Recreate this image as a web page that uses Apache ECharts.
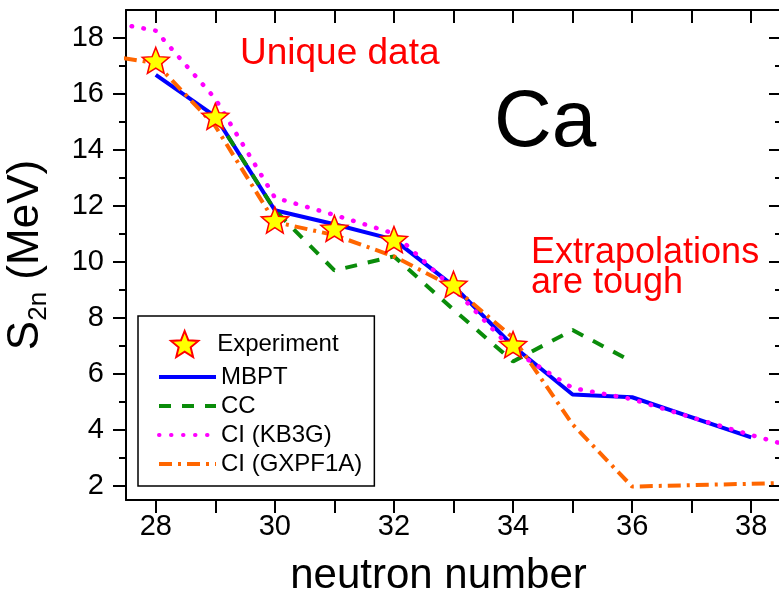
<!DOCTYPE html>
<html>
<head>
<meta charset="utf-8">
<script src="https://cdn.jsdelivr.net/npm/echarts@6/dist/echarts.min.js"></script>
<style>
html, body { margin: 0; padding: 0; background: #fff; }
#chart { width: 779px; height: 594px; }
</style>
</head>
<body>
<div id="chart"></div>
<script>
// S2n values (MeV)
const expN = [28, 29, 30, 31, 32, 33, 34]
const expS2n = [17.2, 15.2, 11.5, 11.2, 10.8, 9.2, 7.05]

const mbptN = [28, 29, 30, 31, 32, 33, 34, 35, 36, 38]
const mbptS2n = [16.68, 15.2, 11.85, 11.35, 10.8, 9.15, 7.0, 5.27, 5.17, 3.74]

const ccN = [29, 30, 31, 32, 33, 34, 35, 36]
const ccS2n = [15.2, 11.85, 9.7, 10.2, 8.3, 6.45, 7.57, 6.44]

const kb3gN = [27, 28, 29, 30, 31, 32, 33, 34, 35, 36, 37, 38, 39]
const kb3gS2n = [18.66, 18.26, 15.83, 12.3, 11.68, 11.02, 9.05, 6.85, 5.5, 5.1, 4.45, 3.82, 3.22]

const gxpfN = [27, 28, 29, 30, 31, 32, 33, 34, 35, 36, 38, 39]
const gxpfS2n = [17.44, 17.1, 14.85, 11.43, 10.96, 10.2, 9.1, 7.3, 4.2, 1.98, 2.08, 2.14]

// ticks and labels
const xTicks = [28, 29, 30, 31, 32, 33, 34, 35, 36, 37, 38]
const xLabels = [28, 30, 32, 34, 36, 38]
const yMajor = [2, 4, 6, 8, 10, 12, 14, 16, 18]
const yMinor = [3, 5, 7, 9, 11, 13, 15, 17]

const FONT = '"Liberation Sans", Arial, sans-serif'

function pairs(xs, ys) {
    return xs.map((x, i) => [x, ys[i]])
}

// five point star for the experiment markers
function starPath(r1, r2) {
    let d = ''
    for (let i = 0; i < 10; i++) {
        const r = i % 2 ? r2 : r1
        const a = Math.PI / 5 * i - Math.PI / 2
        d += (i ? 'L' : 'M') + (50 + r * Math.cos(a)).toFixed(2) + ',' + (50 + r * Math.sin(a)).toFixed(2)
    }
    return 'path://' + d + 'Z'
}
const STAR = starPath(50, 22)

const blackLine = { color: '#000', width: 2 }

const option = {
    animation: false,
    backgroundColor: '#fff',
    textStyle: { fontFamily: FONT },
    grid: { left: 126, top: 10, width: 655, height: 490, outerBoundsMode: 'none', containLabel: false },
    xAxis: [
        {
            type: 'value', min: 27.5, max: 38.5, position: 'bottom',
            axisLine: { onZero: false, lineStyle: blackLine },
            axisTick: { customValues: xTicks, length: 13, lineStyle: blackLine },
            axisLabel: { customValues: xLabels, fontSize: 29, color: '#000', margin: 12, fontFamily: FONT },
            splitLine: { show: false },
            name: 'neutron number', nameLocation: 'middle', nameGap: 55,
            nameTextStyle: { fontSize: 42, color: '#000', fontFamily: FONT, padding: [0, 30, 0, 0] }
        },
        {
            type: 'value', min: 27.5, max: 38.5, position: 'top',
            axisLine: { onZero: false, lineStyle: blackLine },
            axisTick: { inside: true, customValues: xTicks, length: 13, lineStyle: blackLine },
            axisLabel: { show: false },
            splitLine: { show: false }
        }
    ],
    yAxis: [
        {
            type: 'value', min: 1.5, max: 19, position: 'left',
            axisLine: { onZero: false, lineStyle: blackLine },
            axisTick: { customValues: yMajor, length: 13, lineStyle: blackLine },
            axisLabel: { customValues: yMajor, fontSize: 29, color: '#000', margin: 22, fontFamily: FONT },
            splitLine: { show: false },
            name: '{s|S}{sub|2n}{s| (MeV)}', nameLocation: 'middle', nameGap: 74, nameRotate: 90,
            nameTextStyle: {
                rich: {
                    s: { fontSize: 44, color: '#000', fontFamily: FONT },
                    sub: { fontSize: 26, color: '#000', fontFamily: FONT, verticalAlign: 'top', padding: [26, 0, 0, 0] }
                }
            }
        },
        {
            type: 'value', min: 1.5, max: 19, position: 'left',
            axisLine: { show: false, onZero: false },
            axisTick: { customValues: yMinor, length: 7, lineStyle: blackLine },
            axisLabel: { show: false },
            splitLine: { show: false }
        },
        {
            type: 'value', min: 1.5, max: 19, position: 'right',
            axisLine: { onZero: false, lineStyle: blackLine },
            axisTick: { inside: true, customValues: yMajor, length: 12, lineStyle: blackLine },
            axisLabel: { show: false },
            splitLine: { show: false }
        },
        {
            type: 'value', min: 1.5, max: 19, position: 'right',
            axisLine: { show: false, onZero: false },
            axisTick: { inside: true, customValues: yMinor, length: 6, lineStyle: blackLine },
            axisLabel: { show: false },
            splitLine: { show: false }
        }
    ],
    legend: [
        {
            data: ['Experiment'],
            left: 170, top: 330,
            itemWidth: 55, itemHeight: 26,
            padding: 0,
            textStyle: { fontSize: 24, color: '#000', fontFamily: FONT }
        },
        {
            data: ['MBPT', 'CC', 'CI (KB3G)', 'CI (GXPF1A)'],
            orient: 'vertical',
            left: 138, top: 316,
            padding: [49, 12, 10, 19],
            borderColor: '#000', borderWidth: 1.5,
            itemWidth: 57, itemHeight: 14, itemGap: 5,
            itemStyle: { opacity: 0 },
            lineStyle: { width: 4 },
            textStyle: { fontSize: 24, lineHeight: 24, color: '#000', fontFamily: FONT }
        }
    ],
    graphic: [
        {
            type: 'text', left: 240, top: 35, z: 100,
            style: { text: 'Unique data', fill: '#ff0000', font: '37px ' + FONT }
        },
        {
            type: 'text', left: 531, top: 235, z: 100,
            style: { text: 'Extrapolations\nare tough', fill: '#ff0000', font: '36px ' + FONT, lineHeight: 30 }
        },
        {
            type: 'text', left: 494, top: 84, z: 100,
            style: { text: 'Ca', fill: '#000', font: '80px ' + FONT }
        }
    ],
    series: [
        {
            name: 'MBPT', type: 'line', symbol: 'none',
            data: pairs(mbptN, mbptS2n),
            lineStyle: { color: '#0000ff', width: 4 },
            itemStyle: { color: '#0000ff' },
            z: 2
        },
        {
            name: 'CC', type: 'line', symbol: 'none',
            data: pairs(ccN, ccS2n),
            lineStyle: { color: '#0a8c0a', width: 4, type: [12, 11] },
            itemStyle: { color: '#0a8c0a' },
            z: 3
        },
        {
            name: 'CI (KB3G)', type: 'line', symbol: 'none',
            data: pairs(kb3gN, kb3gS2n),
            lineStyle: { color: '#ff00ff', width: 4.5, type: [0.5, 11.5], cap: 'round' },
            itemStyle: { color: '#ff00ff' },
            z: 4
        },
        {
            name: 'CI (GXPF1A)', type: 'line', symbol: 'none',
            data: pairs(gxpfN, gxpfS2n),
            lineStyle: { color: '#ff6600', width: 4, type: [13, 6, 3, 6] },
            itemStyle: { color: '#ff6600' },
            z: 5
        },
        {
            name: 'Experiment', type: 'scatter',
            symbol: STAR, symbolSize: [27, 26],
            data: pairs(expN, expS2n),
            itemStyle: { color: '#ffff00', borderColor: '#ff0000', borderWidth: 1.5, opacity: 1 },
            z: 10
        }
    ]
}

const chart = echarts.init(document.getElementById('chart'))
chart.setOption(option)
</script>
</body>
</html>
